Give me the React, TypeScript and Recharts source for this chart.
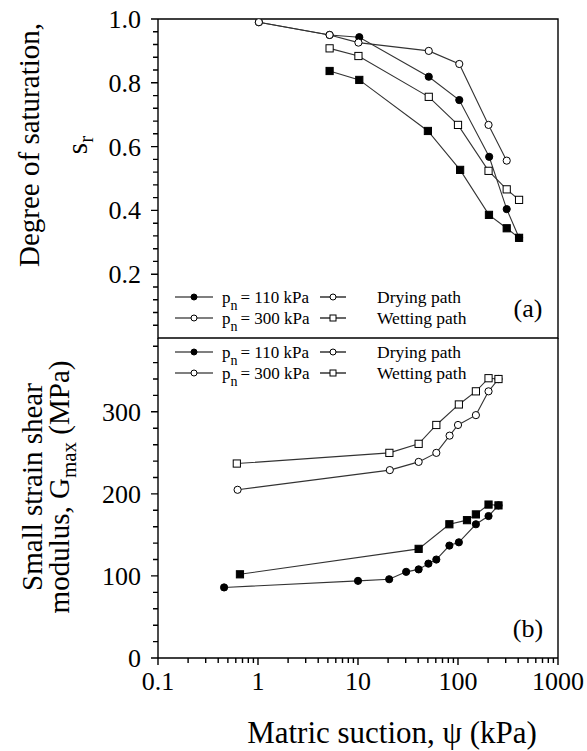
import React from "react";
import { LineChart, Line, XAxis, YAxis, Customized } from "recharts";

const FONT = "'Liberation Serif', 'Times New Roman', serif";
const INK = "#000";
const LINE = "#333";

// x axis (log) ticks
const xMajor = [0.1, 1, 10, 100, 1000];
const xTicks = [
  0.1, 0.2, 0.3, 0.4, 0.5, 0.6, 0.7, 0.8, 0.9,
  1, 2, 3, 4, 5, 6, 7, 8, 9,
  10, 20, 30, 40, 50, 60, 70, 80, 90,
  100, 200, 300, 400, 500, 600, 700, 800, 900, 1000,
];

// (a) degree of saturation axis
const satMajor = [0.2, 0.4, 0.6, 0.8, 1.0];
const satTicks = [
  0.04, 0.08, 0.12, 0.16, 0.2, 0.24, 0.28, 0.32, 0.36, 0.4, 0.44, 0.48, 0.52,
  0.56, 0.6, 0.64, 0.68, 0.72, 0.76, 0.8, 0.84, 0.88, 0.92, 0.96, 1.0,
];

// (b) Gmax axis
const gMajor = [0, 100, 200, 300];
const gTicks = [
  0, 20, 40, 60, 80, 100, 120, 140, 160, 180, 200, 220, 240, 260, 280, 300,
  320, 340, 360, 380,
];

// (a) degree of saturation vs suction
const sat110DryX = [1.02, 5.2, 10.3, 51, 103, 205, 307, 408];
const sat110DryY = [0.99, 0.95, 0.943, 0.819, 0.746, 0.568, 0.404, 0.314];
const sat110WetX = [5.2, 10.3, 50, 105, 204, 307, 408];
const sat110WetY = [0.837, 0.809, 0.649, 0.527, 0.386, 0.344, 0.314];
const sat300DryX = [1.02, 5.2, 10.1, 51, 103, 202, 307];
const sat300DryY = [0.99, 0.95, 0.926, 0.9, 0.859, 0.668, 0.556];
const sat300WetX = [5.2, 10.1, 51, 100, 202, 307, 408];
const sat300WetY = [0.908, 0.884, 0.756, 0.668, 0.524, 0.466, 0.433];

// (b) Gmax vs suction
const g110DryX = [0.458, 10, 20.5, 30.3, 40.4, 50.6, 60.7, 82, 102, 151, 202, 254];
const g110DryY = [86, 94, 96, 105, 108, 115, 120, 137, 141, 163, 173, 186];
const g110WetX = [0.66, 40.4, 82, 123, 151, 202, 254];
const g110WetY = [102, 133, 163, 168, 175, 187, 186];
const g300DryX = [0.625, 20.8, 40.4, 60.7, 82.4, 100, 151, 202, 254];
const g300DryY = [205, 229, 239, 250, 271, 284, 296, 325, 340];
const g300WetX = [0.614, 20.6, 40.4, 60.7, 102, 151, 202, 254];
const g300WetY = [237, 250, 261, 284, 309, 325, 341, 340];

const zip = (xs: number[], ys: number[]) => xs.map((x, i) => ({ x, y: ys[i] }));

// plot box (px) shared by both panels
const PL = 158;
const PR = 558;
const TOP_A = 19;
const DIV = 338; // divider between panels
const H_B = 320; // height of panel (b) plot
const SAT_MAX = 1;
const G_MAX = 390;

const xPix = (v: number) => PL + ((Math.log10(v) + 1) / 4) * (PR - PL);
const r1 = (n: number) => Math.round(n * 10) / 10;

type Kind = "fc" | "oc" | "fs" | "os";

function Marker({ cx, cy, kind, size = 3.6 }: { cx: number; cy: number; kind: Kind; size?: number }) {
  if (cx == null || cy == null) return null;
  const fill = kind === "fc" || kind === "fs" ? INK : "#fff";
  if (kind === "fc" || kind === "oc") {
    return <circle cx={cx} cy={cy} r={size} fill={fill} stroke={INK} strokeWidth={1} />;
  }
  return (
    <rect x={cx - size} y={cy - size} width={size * 2} height={size * 2} fill={fill} stroke={INK} strokeWidth={1} />
  );
}

const dotOf = (kind: Kind) => (p: any) => <Marker key={`${kind}-${p.index}`} cx={p.cx} cy={p.cy} kind={kind} />;

// straight segment as a path
const Seg = ({ d, w = 1.2 }: { d: string; w?: number }) => <path d={d} stroke={INK} strokeWidth={w} fill="none" />;

const XTick = (props: any) => {
  const { x, y, payload } = props;
  const v = payload.value;
  if (!xMajor.includes(v)) return <g />;
  return (
    <text x={x} y={y + 32} textAnchor="middle" fontSize={26} fontFamily={FONT} fill={INK}>
      {String(v)}
    </text>
  );
};

const makeYTick = (majors: number[], fmt: (v: number) => string) => (props: any) => {
  const { x, y, payload } = props;
  const v = payload.value;
  if (!majors.includes(v)) return <g />;
  return (
    <text x={x - 17} y={y + 9} textAnchor="end" fontSize={26} fontFamily={FONT} fill={INK}>
      {fmt(v)}
    </text>
  );
};

const SatTick = makeYTick(satMajor, (v) => v.toFixed(1));
const GTick = makeYTick(gMajor, (v) => String(v));

// legend drawn in svg coords of each chart
function PathLegend({ top }: { top: number }) {
  const rows = [
    { y: top, k1: "fc" as Kind, t1: "110 kPa", k2: "oc" as Kind, t2: "Drying path" },
    { y: top + 21, k1: "oc" as Kind, t1: "300 kPa", k2: "os" as Kind, t2: "Wetting path" },
  ];
  return (
    <g fontFamily={FONT} fill={INK}>
      {rows.map((r) => (
        <g key={r.t1}>
          <Seg d={`M175,${r.y} H213`} />
          <Marker cx={194} cy={r.y} kind={r.k1} size={3} />
          <text x={222} y={r.y + 6} fontSize={17}>
            p
            <tspan dy={7} fontSize={14}>n</tspan>
            <tspan dx={3} dy={-7} fontSize={17}>= {r.t1}</tspan>
          </text>
          <Seg d={`M320,${r.y} H346`} />
          <Marker cx={333} cy={r.y} kind={r.k2} size={3} />
          <text x={377} y={r.y + 6} fontSize={17.5}>
            {r.t2}
          </text>
        </g>
      ))}
    </g>
  );
}

// tick marks appended to the frame path, absolute commands only
const yTickD = (vals: number[], majors: number[], toY: (v: number) => number) =>
  vals
    .map((v) => {
      const y = r1(toY(v));
      const len = majors.includes(v) ? 7 : 5;
      return `M${PL - len},${y} H${PL}`;
    })
    .join(" ");

const xTickD = (y0: number) =>
  xTicks
    .map((v) => {
      const x = r1(xPix(v));
      const len = xMajor.includes(v) ? 7 : 5;
      return `M${x},${y0} V${y0 + len}`;
    })
    .join(" ");

// frame + tick marks, titles, legend (panel a)
const TopDecor = () => {
  const d =
    `M${PL},${TOP_A} V${DIV} H${PR} V${TOP_A} H${PL} Z ` +
    yTickD(satTicks, satMajor, (v) => DIV - (v / SAT_MAX) * (DIV - TOP_A));
  return (
    <g fontFamily={FONT} fill={INK}>
      <Seg d={d} w={1.4} />
      <text transform="rotate(-90 39 145)" x={39} y={145} textAnchor="middle" fontSize={29}>
        Degree of saturation,
      </text>
      <text transform="rotate(-90 87 145)" x={87} y={145} textAnchor="middle" fontSize={29}>
        s<tspan dy={6} fontSize={21}>r</tspan>
      </text>
      <PathLegend top={297} />
      <text x={528} y={317} textAnchor="middle" fontSize={26}>(a)</text>
    </g>
  );
};

// frame + tick marks, titles, legend (panel b)
const BottomDecor = () => {
  const d =
    `M${PL},0 V${H_B} H${PR} V0 ` +
    yTickD(gTicks, gMajor, (v) => H_B - (v / G_MAX) * H_B) +
    " " +
    xTickD(H_B);
  return (
    <g fontFamily={FONT} fill={INK}>
      <Seg d={d} w={1.4} />
      <text transform="rotate(-90 42 149)" x={42} y={149} textAnchor="middle" fontSize={29}>
        Small strain shear
      </text>
      <text transform="rotate(-90 69 149)" x={69} y={149} textAnchor="middle" fontSize={29}>
        modulus, G<tspan dy={7} fontSize={21}>max</tspan>
        <tspan dy={-7} fontSize={29}> (MPa)</tspan>
      </text>
      <PathLegend top={14} />
      <text x={528} y={299} textAnchor="middle" fontSize={26}>(b)</text>
      <text x={392} y={405} textAnchor="middle" fontSize={31}>
        Matric suction, ψ (kPa)
      </text>
    </g>
  );
};

export default function App() {
  return (
    <div style={{ position: "absolute", left: 0, top: 0, width: 587, height: 751, background: "#fff" }}>
      <div style={{ position: "absolute", left: 0, top: 0 }}>
        <LineChart width={587} height={345} margin={{ top: TOP_A, right: 587 - PR, left: 0, bottom: 345 - DIV }}>
          <XAxis
            type="number"
            dataKey="x"
            scale="log"
            domain={[0.1, 1000]}
            allowDataOverflow
            ticks={xMajor}
            tick={false}
            tickLine={false}
            axisLine={false}
            height={0}
          />
          <YAxis
            type="number"
            domain={[0, SAT_MAX]}
            allowDataOverflow
            ticks={satTicks}
            interval={0}
            tick={SatTick}
            tickLine={false}
            tickSize={0}
            tickMargin={0}
            axisLine={false}
            width={PL}
          />
          <Line data={zip(sat110WetX, sat110WetY)} dataKey="y" type="linear" stroke={LINE} strokeWidth={1.1} dot={dotOf("fs")} isAnimationActive={false} />
          <Line data={zip(sat300WetX, sat300WetY)} dataKey="y" type="linear" stroke={LINE} strokeWidth={1.1} dot={dotOf("os")} isAnimationActive={false} />
          <Line data={zip(sat110DryX, sat110DryY)} dataKey="y" type="linear" stroke={LINE} strokeWidth={1.1} dot={dotOf("fc")} isAnimationActive={false} />
          <Line data={zip(sat300DryX, sat300DryY)} dataKey="y" type="linear" stroke={LINE} strokeWidth={1.1} dot={dotOf("oc")} isAnimationActive={false} />
          <Customized component={TopDecor} />
        </LineChart>
      </div>
      <div style={{ position: "absolute", left: 0, top: DIV }}>
        <LineChart width={587} height={413} margin={{ top: 0, right: 587 - PR, left: 0, bottom: 0 }}>
          <XAxis
            type="number"
            dataKey="x"
            scale="log"
            domain={[0.1, 1000]}
            allowDataOverflow
            ticks={xTicks}
            interval={0}
            tick={XTick}
            tickLine={false}
            tickSize={0}
            tickMargin={0}
            axisLine={false}
            height={413 - H_B}
          />
          <YAxis
            type="number"
            domain={[0, G_MAX]}
            allowDataOverflow
            ticks={gTicks}
            interval={0}
            tick={GTick}
            tickLine={false}
            tickSize={0}
            tickMargin={0}
            axisLine={false}
            width={PL}
          />
          <Line data={zip(g110WetX, g110WetY)} dataKey="y" type="linear" stroke={LINE} strokeWidth={1.1} dot={dotOf("fs")} isAnimationActive={false} />
          <Line data={zip(g110DryX, g110DryY)} dataKey="y" type="linear" stroke={LINE} strokeWidth={1.1} dot={dotOf("fc")} isAnimationActive={false} />
          <Line data={zip(g300DryX, g300DryY)} dataKey="y" type="linear" stroke={LINE} strokeWidth={1.1} dot={dotOf("oc")} isAnimationActive={false} />
          <Line data={zip(g300WetX, g300WetY)} dataKey="y" type="linear" stroke={LINE} strokeWidth={1.1} dot={dotOf("os")} isAnimationActive={false} />
          <Customized component={BottomDecor} />
        </LineChart>
      </div>
    </div>
  );
}
